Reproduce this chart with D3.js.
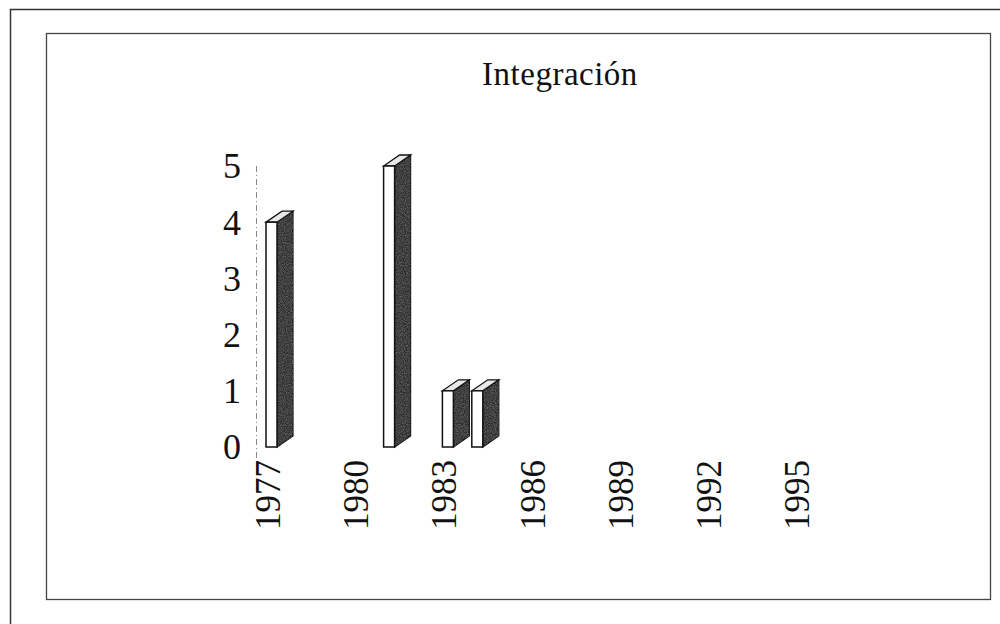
<!DOCTYPE html>
<html lang="es">
<head>
    <meta charset="UTF-8">
    <title>Integración</title>
    <script src="https://d3js.org/d3.v7.min.js"></script>
    <style>
        body{
            margin: 0;
            background-color: #ffffff;
            font-family: 'Liberation Serif', 'Times New Roman', serif;
        }
        svg text{
            fill: #111;
        }
    </style>
</head>
<body>
    <div class="chart"></div>

    <script>
        // data
        var years = [1977,1978,1979,1980,1981,1982,1983,1984,1985,1986,1987,1988,1989,1990,1991,1992,1993,1994,1995];
        var values = [4,0,0,0,5,0,1,1,0,0,0,0,0,0,0,0,0,0,0];
        var yearTicks = [1977,1980,1983,1986,1989,1992,1995];
        var valueTicks = [0,1,2,3,4,5];
        var title = "Integración";

        var width = 1000, height = 624;

        var svg = d3.select(".chart")
            .append("svg")
            .attr("width", width)
            .attr("height", height);

        // speckled texture for the dark faces
        var defs = svg.append("defs");
        var filter = defs.append("filter").attr("id", "speckle")
            .attr("x", 0).attr("y", 0).attr("width", 1).attr("height", 1);
        filter.append("feTurbulence")
            .attr("type", "fractalNoise")
            .attr("baseFrequency", 0.9)
            .attr("numOctaves", 2)
            .attr("seed", 3)
            .attr("result", "noise");
        filter.append("feColorMatrix")
            .attr("in", "noise")
            .attr("type", "matrix")
            .attr("values", "0 0 0 0 0.12  0 0 0 0 0.12  0 0 0 0 0.12  0 0 0 -2.2 1.5")
            .attr("result", "dark");
        filter.append("feComposite")
            .attr("in", "dark")
            .attr("in2", "SourceGraphic")
            .attr("operator", "in");

        // frames
        svg.append("path")
            .attr("d", "M10.5,630 L10.5,9.5 L1010,9.5")
            .attr("fill", "none")
            .attr("stroke", "#333")
            .attr("stroke-width", 1.5);
        svg.append("rect")
            .attr("x", 46.5).attr("y", 33.5)
            .attr("width", 944).attr("height", 566)
            .attr("fill", "none")
            .attr("stroke", "#444")
            .attr("stroke-width", 1.3);

        // title
        svg.append("text")
            .attr("x", 560)
            .attr("y", 85)
            .attr("text-anchor", "middle")
            .style("font-size", "33px")
            .style("letter-spacing", "0.5px")
            .text(title);

        // scales
        var xScale = d3.scaleBand()
            .domain(years)
            .range([253.3, 253.3 + 29.4 * years.length]);

        var yScale = d3.scaleLinear()
            .domain([0, 5])
            .range([447, 166]);

        // y axis
        svg.append("line")
            .attr("x1", 256.5).attr("x2", 256.5)
            .attr("y1", yScale(5)).attr("y2", yScale(0) + 11)
            .attr("stroke", "#888")
            .attr("stroke-width", 1)
            .attr("stroke-dasharray", "6,3,1,3");

        var yAxis = svg.append("g")
            .attr("transform", "translate(256,0)")
            .call(d3.axisLeft(yScale).tickValues(valueTicks).tickSize(0).tickPadding(15).tickFormat(d3.format("d")));
        yAxis.select(".domain").remove();
        yAxis.selectAll("text")
            .style("font-family", "'Liberation Serif', serif")
            .style("font-size", "36px")
            .attr("dy", "0.33em");

        // x axis
        var xAxis = svg.append("g")
            .attr("transform", "translate(0,460)")
            .call(d3.axisBottom(xScale).tickValues(yearTicks).tickSize(0).tickFormat(d3.format("d")));
        xAxis.select(".domain").remove();
        xAxis.selectAll("text")
            .style("font-family", "'Liberation Serif', serif")
            .style("font-size", "35px")
            .attr("text-anchor", "end")
            .attr("transform", "rotate(-90)")
            .attr("x", 0)
            .attr("y", 0)
            .attr("dy", "0.34em");

        // 3D bars
        var data = years.map(function(d, i){ return {year: d, value: values[i]}; })
            .filter(function(d){ return d.value > 0; });

        var frontW = 11, depthX = 16, depthY = 11;

        var bars = svg.append("g").selectAll("g")
            .data(data)
            .join("g");

        function fx(d){ return xScale(d.year) + xScale.bandwidth() / 2 - 2; }

        function sidePath(d){
            var x0 = fx(d) + frontW, yt = yScale(d.value), yb = yScale(0);
            return "M" + x0 + "," + yt + " L" + (x0 + depthX) + "," + (yt - depthY) +
                   " L" + (x0 + depthX) + "," + (yb - depthY) + " L" + x0 + "," + yb + "Z";
        }

        // side face
        bars.append("path")
            .attr("d", sidePath)
            .attr("fill", "#2b2b2b")
            .attr("stroke", "#111")
            .attr("stroke-width", 1.2);
        bars.append("path")
            .attr("d", sidePath)
            .attr("fill", "#bbb")
            .attr("filter", "url(#speckle)");

        // top face
        bars.append("path")
            .attr("d", function(d){
                var x0 = fx(d), yt = yScale(d.value);
                return "M" + x0 + "," + yt + " L" + (x0 + frontW) + "," + yt +
                       " L" + (x0 + frontW + depthX) + "," + (yt - depthY) +
                       " L" + (x0 + depthX) + "," + (yt - depthY) + "Z";
            })
            .attr("fill", "#e8e8e8")
            .attr("stroke", "#111")
            .attr("stroke-width", 1.3);

        // front face
        bars.append("rect")
            .attr("x", fx)
            .attr("y", function(d){ return yScale(d.value); })
            .attr("width", frontW)
            .attr("height", function(d){ return yScale(0) - yScale(d.value); })
            .attr("fill", "#ffffff")
            .attr("stroke", "#111")
            .attr("stroke-width", 1.5);
    </script>
</body>
</html>
